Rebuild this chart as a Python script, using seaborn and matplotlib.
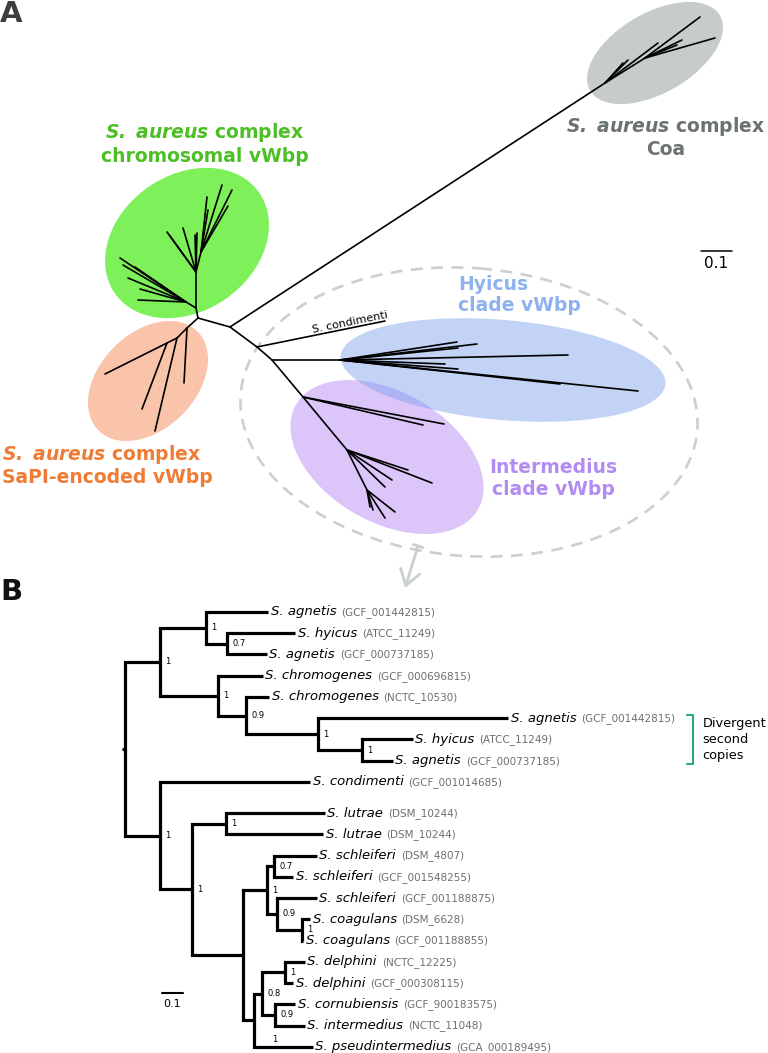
import pandas as pd
import matplotlib
matplotlib.use("Agg")
import matplotlib.pyplot as plt
from matplotlib.patches import Ellipse
import seaborn as sns

sns.set_theme(style="white")
plt.rcParams["font.family"] = ["DejaVu Sans"]
plt.rcParams["text.color"] = "black"

# -------------------------------
# Panel A: unrooted tree (node positions, y down)
# -------------------------------
a_node_x = [198, 230, 257, 272, 303, 347, 367,
            605, 645, 700, 715, 677, 682, 658, 628, 623,
            385,
            340, 457, 477, 458, 568, 445, 458, 560, 638,
            423, 444, 408, 432, 392, 385, 395, 385, 373, 370,
            196, 186, 120, 123, 135, 128, 140, 138,
            196, 167, 170, 183, 195, 197, 201, 207, 222, 232, 228, 208,
            187, 177, 184, 167, 105, 142, 155]
a_node_y = [318, 327, 347, 360, 397, 450, 490,
            83, 58, 17, 38, 45, 40, 43, 60, 63,
            321,
            360, 342, 344, 348, 355, 364, 369, 384, 391,
            425, 424, 470, 483, 480, 487, 512, 518, 510, 507,
            308, 302, 258, 265, 267, 278, 289, 300,
            272, 232, 236, 228, 235, 233, 252, 197, 185, 190, 206, 210,
            328, 338, 383, 343, 374, 409, 431]
a_parent = [-1, 0, 1, 2, 3, 4, 5,
            1, 7, 8, 8, 8, 8, 7, 7, 7,
            2,
            3, 17, 17, 17, 17, 17, 17, 17, 17,
            4, 4, 5, 5, 5, 5, 6, 6, 6, 6,
            0, 36, 37, 37, 37, 37, 37, 37,
            36, 44, 44, 44, 44, 44, 44, 50, 50, 50, 50, 50,
            0, 56, 56, 57, 59, 59, 57]

# -------------------------------
# Panel B: rooted tree
# -------------------------------
tip_species = ["S. agnetis", "S. hyicus", "S. agnetis", "S. chromogenes",
               "S. chromogenes", "S. agnetis", "S. hyicus", "S. agnetis",
               "S. condimenti", "S. lutrae", "S. lutrae", "S. schleiferi",
               "S. schleiferi", "S. schleiferi", "S. coagulans", "S. coagulans",
               "S. delphini", "S. delphini", "S. cornubiensis", "S. intermedius",
               "S. pseudintermedius"]
tip_accession = ["GCF_001442815", "ATCC_11249", "GCF_000737185", "GCF_000696815",
                 "NCTC_10530", "GCF_001442815", "ATCC_11249", "GCF_000737185",
                 "GCF_001014685", "DSM_10244", "DSM_10244", "DSM_4807",
                 "GCF_001548255", "GCF_001188875", "DSM_6628", "GCF_001188855",
                 "NCTC_12225", "GCF_000308115", "GCF_900183575", "NCTC_11048",
                 "GCA_000189495"]
tip_depth = [0.681, 0.810, 0.676, 0.657, 0.686, 1.824, 1.371, 1.276, 0.881,
             0.952, 0.943, 0.914, 0.800, 0.914, 0.881, 0.848, 0.857, 0.800,
             0.810, 0.857, 0.895]

node_name = ["root", "U1", "a", "c", "b", "d", "e", "f", "L1", "L2",
             "lut", "M", "S", "s1", "s2", "s3", "P", "P2", "del", "ci"]
node_left = ["U1", "a", 0, 1, 3, 4, 5, 6, 8, "lut",
             9, "S", "s1", 11, 13, 14, "P2", "del", 16, 18]
node_right = ["L1", "b", "c", 2, "d", "e", "f", 7, "L2", "M",
              10, "P", "s2", 12, "s3", 15, 20, "ci", 17, 19]
node_depth = [0.0, 0.167, 0.386, 0.486, 0.443, 0.576, 0.919, 1.129, 0.167, 0.319,
              0.481, 0.562, 0.676, 0.710, 0.724, 0.843, 0.614, 0.652, 0.762, 0.714]
node_support = ["", "1", "1", "0.7", "1", "0.9", "1", "1", "1", "1",
                "1", "", "1", "0.7", "0.9", "1", "1", "0.8", "1", "0.9"]

fig = plt.figure(figsize=(7.68, 10.53), dpi=100)
axA = fig.add_axes([0, 453 / 1053, 1, 600 / 1053])
axB = fig.add_axes([0, 0, 1, 453 / 1053])

# ---- Panel A ----
rows = []
for i, p in enumerate(a_parent):
    if p < 0:
        continue
    rows.append((i, a_node_x[p], a_node_y[p]))
    rows.append((i, a_node_x[i], a_node_y[i]))
segA = pd.DataFrame(rows, columns=["seg", "x", "y"])

clades = [((187, 243), 176, 136, -35, "#7ef05a"),
          ((148, 381), 140, 96, -45, "#f9c4aa"),
          ((655, 53), 150, 80, -30, "#c6ccc9"),
          ((387, 457), 210, 130, 30, (0.72, 0.55, 0.96, 0.5)),
          ((503, 370), 326, 100, 5, (0.47, 0.62, 0.93, 0.45))]
for c, w, h, ang, col in clades:
    axA.add_patch(Ellipse(c, w, h, angle=ang, facecolor=col, edgecolor="none", zorder=0))
axA.add_patch(Ellipse((469, 412), 458, 288, angle=4.5, fill=False, edgecolor="#c9d0cd",
                      lw=1.9, linestyle=(0, (4.5, 3.2)), zorder=1))

sns.lineplot(data=segA, x="x", y="y", units="seg", estimator=None, sort=False,
             color="black", lw=1.2, solid_capstyle="round", legend=False, ax=axA, zorder=3)

# arrow from the dashed outline down to panel B
axA.annotate("", xy=(405, 588), xytext=(418, 546),
             arrowprops=dict(arrowstyle="->, head_length=0.9, head_width=0.6",
                             color="#c9d0cd", lw=2, shrinkA=0, shrinkB=0))
axA.plot([413, 423], [544.5, 547.5], color="#c9d0cd", lw=2)

title_kw = dict(fontsize=13.5, fontweight="bold", va="center", linespacing=1.15)
axA.text(205, 143.5, r"$\mathbfit{S.\ aureus}$ complex" + "\nchromosomal vWbp",
         color="#4cbf25", ha="center", **title_kw)
axA.text(666, 137, r"$\mathbfit{S.\ aureus}$ complex" + "\nCoa",
         color="#6a7372", ha="center", **title_kw)
axA.text(2, 465, r"$\mathbfit{S.\ aureus}$ complex" + "\nSaPI-encoded vWbp",
         color="#f07b35", ha="left", **title_kw)
axA.text(458, 295, "Hyicus\nclade vWbp", color="#8fb1ef", ha="left", **title_kw)
axA.text(553, 478.5, "Intermedius\nclade vWbp", color="#b38cf2", ha="center",
         multialignment="center", **title_kw)
axA.text(313, 333, "S. condimenti", rotation=11.5, rotation_mode="anchor",
         ha="left", va="baseline", fontsize=8)

axA.plot([701, 732], [251, 251], color="black", lw=1.1)
axA.text(716.5, 256, "0.1", ha="center", va="top", fontsize=11)

axA.set_xlim(0, 768)
axA.set_ylim(600, 0)
axA.set_axis_off()

# ---- Panel B ----
upper_tips = 9
gap = 0.46
tip_row = [i if i < upper_tips else i + gap for i in range(len(tip_species))]

idx = {n: k for k, n in enumerate(node_name)}
node_row = {}


def row_of(ref):
    if isinstance(ref, int):
        return tip_row[ref]
    k = idx[ref]
    if ref not in node_row:
        node_row[ref] = (row_of(node_left[k]) + row_of(node_right[k])) / 2
    return node_row[ref]


def depth_of(ref):
    return tip_depth[ref] if isinstance(ref, int) else node_depth[idx[ref]]


rows = []
for k, n in enumerate(node_name):
    l, r = node_left[k], node_right[k]
    d = node_depth[k]
    pts = [(depth_of(l), row_of(l)), (d, row_of(l)), (d, row_of(r)), (depth_of(r), row_of(r))]
    for x, y in pts:
        rows.append((n, x, y))
rows.append(("stub", -0.015, row_of("root")))
rows.append(("stub", 0.0, row_of("root")))
segB = pd.DataFrame(rows, columns=["seg", "x", "y"])

sns.lineplot(data=segB, x="x", y="y", units="seg", estimator=None, sort=False,
             color="black", lw=2.3, solid_capstyle="butt", solid_joinstyle="miter",
             legend=False, ax=axB)

for k, n in enumerate(node_name):
    s = node_support[k]
    if not s:
        continue
    if n == "P":
        axB.text(node_depth[k] + 0.1, row_of(node_right[k]) - 0.33, s,
                 fontsize=6, ha="center", va="center", color="black")
    else:
        axB.text(node_depth[k] + 0.026, row_of(n), s, fontsize=6, ha="left",
                 va="center", color="black")

for i, sp in enumerate(tip_species):
    t = axB.text(tip_depth[i] + 0.012, tip_row[i], sp, fontsize=9.5, fontstyle="italic",
                 ha="left", va="center", color="black")
    axB.annotate("(" + tip_accession[i] + ")", xy=(1, 0.5), xycoords=t,
                 xytext=(3.5, -0.3), textcoords="offset points",
                 fontsize=7.5, color="#6e6e6e", ha="left", va="center")

# divergent second copies bracket
bx = 2.705
axB.plot([bx - 0.03, bx, bx, bx - 0.03],
         [tip_row[5] - 0.15, tip_row[5] - 0.15, tip_row[7] + 0.15, tip_row[7] + 0.15],
         color="#2daa7c", lw=1.5)
axB.text(bx + 0.045, tip_row[6], "Divergent\nsecond\ncopies", fontsize=9.3,
         ha="left", va="center", linespacing=1.3, color="black")

# scale bar
axB.plot([0.176, 0.276], [17.93, 17.93], color="black", lw=1.5)
axB.text(0.226, 18.2, "0.1", ha="center", va="top", fontsize=8, color="black")

axB.set_xlim(-0.5952, 3.0619)
axB.set_ylim(20.753, -0.5647)
axB.set_axis_off()

fig.text(0.0, 1 - 22 / 1053, "A", fontsize=21, fontweight="bold", color="#3b3f42",
         ha="left", va="baseline")
fig.text(0.0, 1 - 600 / 1053, "B", fontsize=21, fontweight="bold", color="#111111",
         ha="left", va="baseline")

fig.savefig("out.png", dpi=100)
